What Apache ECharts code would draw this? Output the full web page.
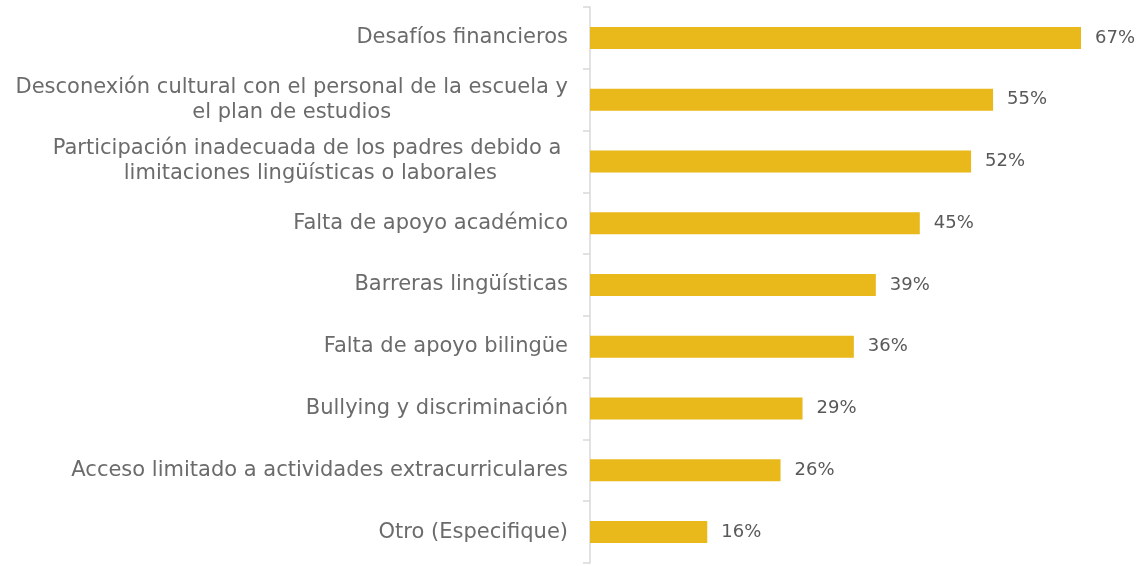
<!DOCTYPE html>
<html><head><meta charset="utf-8">
<script src="https://cdn.jsdelivr.net/npm/echarts@6/dist/echarts.min.js"></script>
<style>html,body{margin:0;padding:0;background:#fff}#c{width:1142px;height:566px}</style>
</head><body><div id="c"></div>
<script>
const categories = [
  'Desafíos financieros',
  'Desconexión cultural con el personal de la escuela y\nel plan de estudios',
  'Participación inadecuada de los padres debido a \nlimitaciones lingüísticas o laborales',
  'Falta de apoyo académico',
  'Barreras lingüísticas',
  'Falta de apoyo bilingüe',
  'Bullying y discriminación',
  'Acceso limitado a actividades extracurriculares',
  'Otro (Especifique)'
];
const values = [67, 55, 52, 45, 39, 36, 29, 26, 16];

const chart = echarts.init(document.getElementById('c'));
chart.setOption({
  animation: false,
  grid: { left: 590, top: 7, width: 513, height: 556 },
  xAxis: { type: 'value', min: 0, max: 70, show: false },
  yAxis: {
    type: 'category', data: categories, inverse: true,
    axisLine: { show: true, lineStyle: { color: '#d9d9d9', width: 1.5 } },
    axisTick: { show: true, length: 7, lineStyle: { color: '#d9d9d9', width: 1.5 } },
    axisLabel: {
      margin: 22, align: 'right', color: '#6b6b6b',
      fontFamily: 'DejaVu Sans', fontSize: 21, lineHeight: 25,
      formatter: v => v.split('\n').map(s => '{c|' + s + '}').join('\n'),
      rich: { c: { align: 'center', fontFamily: 'DejaVu Sans', fontSize: 21, lineHeight: 25, color: '#6b6b6b' } }
    }
  },
  series: [{
    type: 'bar', data: values, barWidth: 22,
    itemStyle: { color: '#E9B81A' },
    label: { show: true, position: 'right', distance: 14, formatter: '{c}%', color: '#595959', fontFamily: 'DejaVu Sans', fontSize: 18 }
  }]
});
</script></body></html>
